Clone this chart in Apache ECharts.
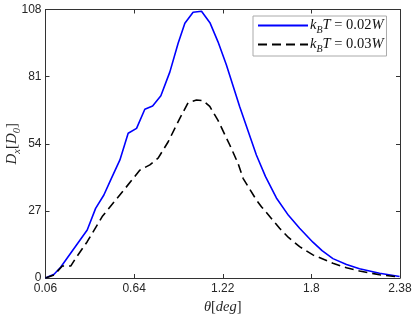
<!DOCTYPE html>
<html>
<head>
<meta charset="utf-8">
<script src="https://cdn.jsdelivr.net/npm/echarts@6/dist/echarts.min.js"></script>
<style>html,body{margin:0;padding:0;background:#fff}#c{width:416px;height:316px}</style>
</head>
<body>
<div id="c"></div>
<script>
var seriesNames = ['k_BT = 0.02W', 'k_BT = 0.03W'];
var thetaBlue = [0.06, 0.116, 0.159, 0.333, 0.388, 0.442, 0.486, 0.547, 0.601, 0.656, 0.710, 0.761, 0.815, 0.874, 0.928, 0.972, 1.026, 1.081, 1.136, 1.189, 1.244, 1.331, 1.440, 1.500, 1.571, 1.650, 1.723, 1.810, 1.870, 1.941, 2.030, 2.115, 2.246, 2.377];
var dBlue = [0, 1.5, 4.3, 19.3, 28.0, 33.4, 39.4, 47.5, 58.2, 60.2, 67.9, 69.2, 73.3, 82.9, 94.4, 102.5, 106.9, 107.3, 102.7, 95.0, 85.7, 68.9, 49.5, 40.8, 32.2, 25.2, 20.0, 14.4, 11.0, 7.8, 5.4, 3.7, 1.9, 0.6];
var thetaBlack = [0.06, 0.116, 0.170, 0.225, 0.257, 0.333, 0.431, 0.573, 0.678, 0.743, 0.797, 0.863, 0.939, 0.993, 1.048, 1.091, 1.135, 1.189, 1.266, 1.320, 1.353, 1.440, 1.473, 1.592, 1.650, 1.723, 1.810, 1.941, 2.030, 2.115, 2.246, 2.377];
var dBlack = [0, 1.2, 4.8, 4.8, 7.9, 14.6, 24.7, 35.4, 43.4, 45.5, 48.2, 54.8, 64.2, 70.5, 71.6, 71.3, 69.0, 63.4, 53.5, 46.1, 40.1, 31.4, 28.7, 20.0, 16.3, 12.6, 9.3, 5.9, 4.1, 2.8, 1.3, 0.4];
var xTicks = [0.06, 0.64, 1.22, 1.8, 2.38];
var yTicks = [0, 27, 54, 81, 108];

function pairs(xs, ys) { return xs.map(function (x, i) { return [x, ys[i]]; }); }

var serif = 'Liberation Serif';
var sans = 'Liberation Sans';
var axisColor = '#333';
var chart = echarts.init(document.getElementById('c'), null, {renderer: 'canvas'});

function baseX(show) {
  return {
    type: 'value', min: xTicks[0], max: xTicks[xTicks.length - 1],
    axisLine: {show: true, onZero: false, lineStyle: {color: axisColor, width: 1}},
    axisTick: {show: true, inside: true, length: 4, customValues: xTicks, lineStyle: {color: axisColor}},
    axisLabel: {show: show, customValues: xTicks, color: '#262626', fontFamily: sans, fontSize: 12, margin: 5,
      formatter: function (v) { return String(v); }},
    splitLine: {show: false}
  };
}
function baseY(show) {
  return {
    type: 'value', min: yTicks[0], max: yTicks[yTicks.length - 1], interval: 27,
    axisLine: {show: true, onZero: false, lineStyle: {color: axisColor, width: 1}},
    axisTick: {show: true, inside: true, length: 4, lineStyle: {color: axisColor}},
    axisLabel: {show: show, color: '#262626', fontFamily: sans, fontSize: 12, margin: 4},
    splitLine: {show: false}
  };
}
var x0 = baseX(true);
x0.position = 'bottom';
x0.name = '{i|θ}{n|[}{i|deg}{n|]}';
x0.nameLocation = 'middle';
x0.nameGap = 19;
x0.nameTextStyle = {rich: {
  i: {fontFamily: serif, fontStyle: 'italic', fontSize: 14.5, color: '#262626'},
  n: {fontFamily: serif, fontSize: 14.5, color: '#262626'}
}};
var x1 = baseX(false); x1.position = 'top';
var y0 = baseY(true);
y0.position = 'left';
y0.name = '{i|D}{s|x}{n|[}{i|D}{s|0}{n|]}';
y0.nameLocation = 'middle';
y0.nameRotate = 90;
y0.nameMoveOverlap = false;
y0.nameGap = 26;
y0.nameTextStyle = {rich: {
  i: {fontFamily: serif, fontStyle: 'italic', fontSize: 15, color: '#262626', lineHeight: 17, verticalAlign: 'bottom'},
  n: {fontFamily: serif, fontSize: 15, color: '#262626', lineHeight: 17, verticalAlign: 'bottom'},
  s: {fontFamily: serif, fontStyle: 'italic', fontSize: 10.5, color: '#262626', lineHeight: 17, verticalAlign: 'bottom', padding: [0, 0, -3, 0]}
}};
var y1 = baseY(false); y1.position = 'right';

var legendRich = {
  i: {fontFamily: serif, fontStyle: 'italic', fontSize: 14.5, color: '#111', lineHeight: 15, verticalAlign: 'bottom'},
  n: {fontFamily: serif, fontSize: 14.5, color: '#111', lineHeight: 15, verticalAlign: 'bottom'},
  s: {fontFamily: serif, fontStyle: 'italic', fontSize: 10, color: '#111', lineHeight: 15, verticalAlign: 'bottom', padding: [0, 0, -2, 0]}
};

chart.setOption({
  animation: false,
  backgroundColor: '#fff',
  grid: {left: 45.5, right: 16, top: 9.5, bottom: 38, containLabel: false, outerBoundsMode: 'none'},
  legend: {
    orient: 'vertical', left: 253, top: 16,
    backgroundColor: '#fff', borderColor: '#aaa', borderWidth: 1, borderRadius: 0,
    padding: [2, 3, 2, 4], itemGap: 2, itemWidth: 50, itemHeight: 14,
    itemStyle: {opacity: 0},
    textStyle: {rich: legendRich, padding: [0, 0, 0, -3]},
    formatter: function (name) {
      var m = name.match(/^k_BT = ([0-9.]+)W$/);
      return '{i|k}{s|B}{i|T}{n| = ' + m[1] + '}{i|W}';
    },
    data: seriesNames
  },
  xAxis: [x0, x1],
  yAxis: [y0, y1],
  series: [
    {name: seriesNames[0], type: 'line', xAxisIndex: 0, yAxisIndex: 0, data: pairs(thetaBlue, dBlue),
      symbol: 'none', lineStyle: {color: '#0000ff', width: 1.6}, itemStyle: {color: '#0000ff'}},
    {name: seriesNames[1], type: 'line', xAxisIndex: 0, yAxisIndex: 0, data: pairs(thetaBlack, dBlack),
      symbol: 'none', lineStyle: {color: '#000', width: 1.6, type: [9, 5]}, itemStyle: {color: '#000'}}
  ]
});
</script>
</body>
</html>
